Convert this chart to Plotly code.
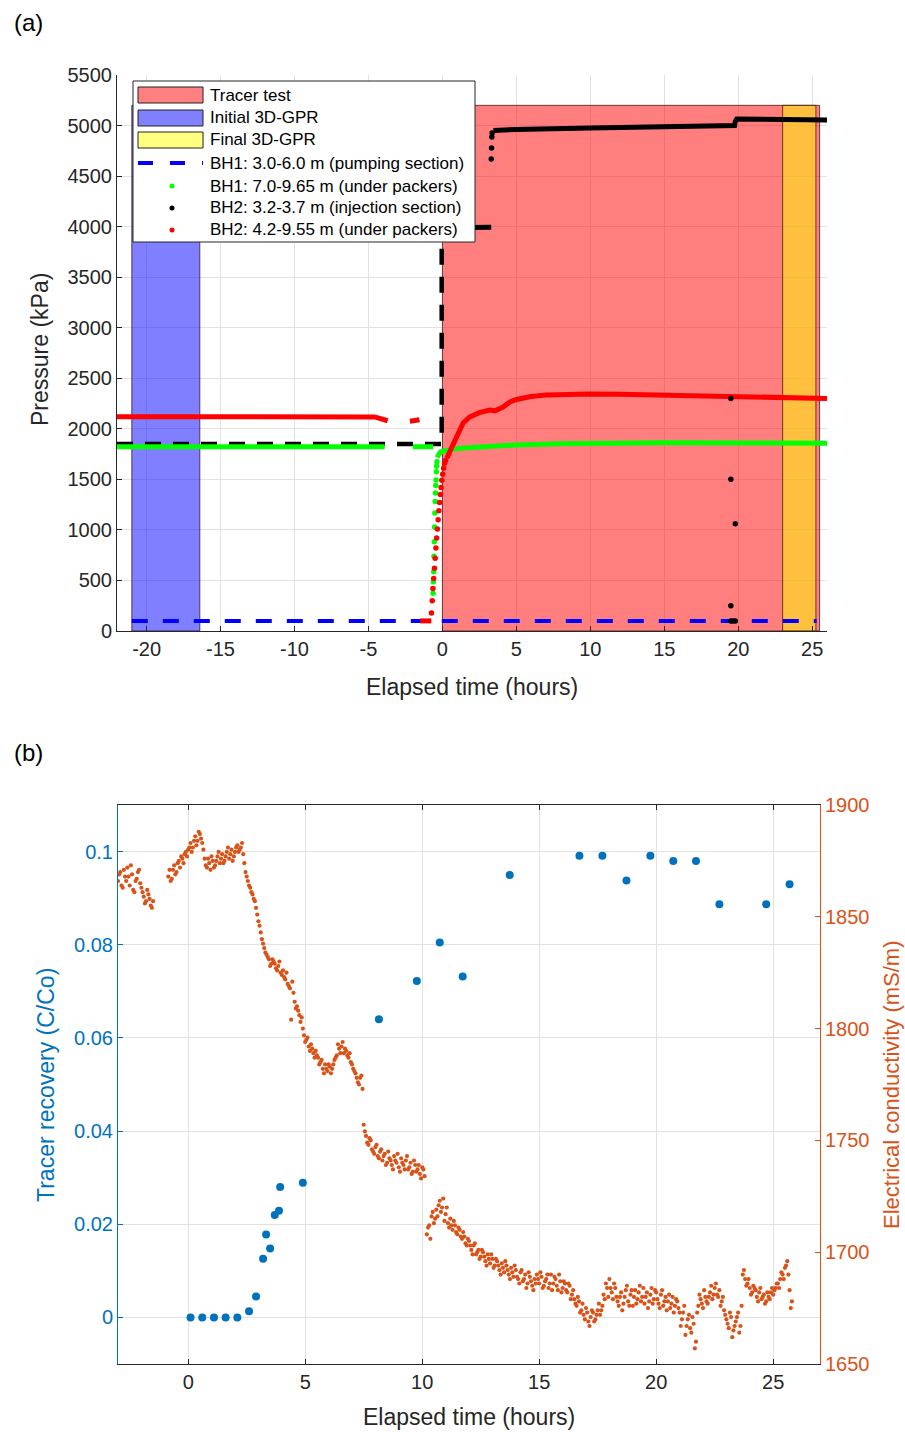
import plotly.graph_objects as go

W, H = 905, 1432
FONT = "Liberation Sans, Arial, sans-serif"
AX = "#262626"
GRID = "#e2e2e2"
BLUE_B = "#0072BD"
ORANGE_B = "#D95319"

# ---------------- Panel (a) data ----------------
tracer_period = [0.0, 25.5]
initial_gpr_period = [-21.0, -16.4]
final_gpr_period = [23.0, 25.25]
period_top = 5200

bh1_pump_t = [-21.0, 25.3]
bh1_pump_p = [100, 100]

bh1_pk_t_a = [-22.0, -10.0, -3.9]
bh1_pk_p_a = [1822, 1822, 1822]
bh1_pk_t_b = [-2.0, -1.0, -0.63]
bh1_pk_p_b = [1823, 1823, 1823]
bh1_pk_t_drop = [-0.63, -0.61, -0.59, -0.57, -0.55, -0.53, -0.51, -0.49, -0.47, -0.45, -0.43, -0.41, -0.39, -0.37]
bh1_pk_p_drop = [373, 488, 587, 740, 884, 1030, 1167, 1280, 1365, 1440, 1494, 1576, 1630, 1675]
bh1_pk_t_c = [-0.33, -0.28, -0.12, 0.5, 1.0, 2.0, 3.0, 5.0, 8.0, 10.0, 15.0, 20.0, 26.0]
bh1_pk_p_c = [1715, 1740, 1773, 1795, 1805, 1815, 1825, 1840, 1852, 1858, 1862, 1860, 1858]

bh2_inj_dash_t = [-22.0, -0.05, -0.05]
bh2_inj_dash_p = [1850, 1850, 4000]
bh2_inj_t_a = [0.0, 1.5, 3.3]
bh2_inj_p_a = [3990, 3990, 3995]
bh2_inj_t_jump = [3.3, 3.32, 3.34, 3.36]
bh2_inj_p_jump = [4669, 4778, 4887, 4926]
bh2_inj_t_b = [3.45, 5.0, 10.0, 15.0, 19.75, 19.8, 19.9, 26.0]
bh2_inj_p_b = [4950, 4962, 4975, 4988, 5000, 5040, 5065, 5055]
bh2_inj_t_out = [19.5, 19.5, 19.8, 19.5, 19.5, 19.65, 19.8]
bh2_inj_p_out = [2300, 1500, 1060, 250, 100, 100, 100]

bh2_pk_t_a = [-22.0, -10.0, -4.6, -4.3, -4.0, -3.7]
bh2_pk_p_a = [2120, 2120, 2118, 2105, 2092, 2080]
bh2_pk_t_b = [-2.2, -1.9, -1.55]
bh2_pk_p_b = [2075, 2082, 2090]
bh2_pk_t_c = [-1.5, -1.1, -0.75]
bh2_pk_p_c = [100, 100, 100]
bh2_pk_t_rise = [-0.74, -0.69, -0.64, -0.59, -0.54, -0.49, -0.44, -0.39, -0.34, -0.29, -0.24,
                 -0.19, -0.14, -0.09, -0.04, 0.02, 0.08, 0.15, 0.22]
bh2_pk_p_rise = [177, 300, 420, 520, 620, 720, 820, 920, 1010, 1100, 1190,
                 1270, 1350, 1420, 1490, 1550, 1610, 1660, 1690]
bh2_pk_t_d = [0.3, 0.5, 0.73, 1.06, 1.4, 1.85, 2.5, 3.2, 3.55, 4.1, 4.56, 5.0, 6.0, 7.0,
              8.0, 10.0, 12.0, 15.0, 18.0, 20.0, 22.0, 24.0, 26.0]
bh2_pk_p_d = [1710, 1771, 1860, 1959, 2058, 2117, 2160, 2186, 2178, 2216, 2265, 2290, 2320, 2335,
              2342, 2345, 2343, 2335, 2325, 2318, 2310, 2305, 2300]

a_xticks = [-20, -15, -10, -5, 0, 5, 10, 15, 20, 25]
a_xlabels = ["-20", "-15", "-10", "-5", "0", "5", "10", "15", "20", "25"]
a_yticks = [0, 500, 1000, 1500, 2000, 2500, 3000, 3500, 4000, 4500, 5000, 5500]

# ---------------- Panel (b) data ----------------
rec_t = [0.1, 0.6, 1.1, 1.6, 2.1, 2.6, 2.9, 3.2, 3.33, 3.5, 3.7, 3.88, 3.93, 4.9,
         8.15, 9.77, 10.75, 11.73, 13.74, 16.72, 17.7, 18.73, 19.75, 20.73, 21.7, 22.7, 24.7, 25.7]
rec_c = [0.0, 0.0, 0.0, 0.0, 0.0, 0.0013, 0.0045, 0.0126, 0.0178, 0.0148, 0.022, 0.0229, 0.028, 0.0289,
         0.064, 0.0722, 0.0805, 0.0732, 0.095, 0.0991, 0.0991, 0.0938, 0.0991, 0.098, 0.098, 0.0887, 0.0887, 0.093]

ec_step = 0.1
ec_seg1_start = -3.0
ec_seg1 = [1866, 1870, 1863, 1868, 1872, 1864, 1869, 1861, 1867, 1871, 1863, 1859, 1857, 1860, 1855, 1857]
ec_seg1b_start = -2.95
ec_seg1b = [1869, 1864, 1871, 1866, 1868, 1873, 1862, 1866, 1870, 1865, 1861, 1856, 1862, 1858, 1854]
ec_seg2_start = -0.85
ec_seg2 = [1868, 1866, 1871, 1869, 1874, 1872, 1876, 1878, 1877, 1881, 1879, 1884, 1882, 1888, 1885, 1880,
           1873, 1876, 1871, 1875, 1873, 1877, 1874, 1878, 1875, 1879, 1876, 1880, 1877, 1881, 1879, 1881,
           1878, 1870, 1866, 1863, 1860, 1857, 1851, 1846, 1840, 1836, 1833, 1831, 1829, 1830, 1827, 1828,
           1825, 1826, 1822, 1820, 1818, 1821, 1812, 1810, 1806, 1805, 1797, 1795, 1792, 1793, 1789, 1790,
           1787, 1785, 1782, 1784, 1781, 1783, 1782, 1786, 1788, 1791, 1792, 1789, 1790, 1787, 1785, 1782,
           1780, 1776, 1778, 1773]
ec_seg2b_start = -0.8
ec_seg2b = [1871, 1867, 1873, 1870, 1875, 1877, 1874, 1879, 1880, 1883, 1881, 1886, 1884, 1887, 1883, 1876,
            1872, 1874, 1877, 1872, 1875, 1879, 1876, 1874, 1877, 1881, 1878, 1875, 1879, 1882, 1880, 1883,
            1874, 1868, 1864, 1861, 1858, 1854, 1848, 1843, 1838, 1834, 1832, 1828, 1831, 1829, 1826, 1830,
            1824, 1823, 1825, 1819, 1804, 1816, 1809, 1808, 1803, 1800, 1794, 1796, 1790, 1791, 1787, 1788,
            1784, 1786, 1780, 1782, 1784, 1780, 1784, 1787, 1793, 1789, 1794, 1791, 1788, 1789, 1784, 1781,
            1778, 1775, 1779]
ec_seg3_start = 7.5
ec_seg3 = [1757, 1752, 1748, 1750, 1745, 1747, 1743, 1745, 1741, 1744, 1740, 1742, 1739, 1743, 1740,
           1738, 1742, 1739, 1741, 1737, 1740, 1736, 1739, 1737, 1735, 1738, 1734]
ec_seg3b_start = 7.55
ec_seg3b = [1754, 1749, 1751, 1746, 1744, 1748, 1742, 1746, 1743, 1739, 1745, 1741, 1737, 1741, 1744,
            1736, 1740, 1737, 1743, 1738, 1735, 1741, 1736, 1739, 1733, 1737]
ec_seg4_start = 10.2
ec_seg4 = [1708, 1712, 1716, 1713, 1719, 1721, 1718, 1724, 1717, 1713, 1715, 1710, 1712, 1708, 1710, 1706,
           1707, 1703, 1705, 1701, 1703, 1699, 1701, 1698, 1700, 1696, 1699, 1695, 1697, 1694, 1696, 1692,
           1695, 1691, 1694, 1690, 1693, 1689, 1692, 1688, 1691, 1687, 1690, 1686, 1689, 1685, 1688, 1690,
           1686, 1689, 1685, 1688, 1684, 1690, 1686, 1688, 1683, 1687, 1684, 1686, 1682, 1685, 1681, 1679,
           1676, 1678, 1674, 1672, 1675, 1669, 1671, 1673, 1670, 1674, 1672, 1676, 1679, 1684, 1688, 1682,
           1686, 1680, 1676, 1682, 1677, 1683, 1678, 1681, 1676, 1683, 1679, 1685, 1680, 1677, 1682, 1678,
           1684, 1679, 1682, 1677, 1681, 1676, 1680, 1678, 1675, 1680, 1676, 1678, 1673, 1670, 1676, 1667,
           1672, 1664, 1668, 1660, 1676, 1679, 1675, 1680, 1677, 1682, 1679, 1684, 1681, 1683, 1678, 1674,
           1670, 1666, 1671, 1665, 1669, 1673, 1667, 1690, 1688, 1686, 1684, 1682, 1684, 1680, 1682, 1679,
           1681, 1678, 1680, 1682, 1681, 1684, 1686, 1688, 1690, 1693, 1696, 1683, 1678]
ec_seg4b_start = 10.25
ec_seg4b = [1711, 1706, 1718, 1715, 1716, 1723, 1720, 1714, 1720, 1711, 1712, 1714, 1709, 1711, 1707, 1709,
            1704, 1706, 1703, 1699, 1704, 1700, 1697, 1701, 1698, 1694, 1697, 1699, 1693, 1697, 1694, 1690,
            1693, 1696, 1692, 1688, 1691, 1694, 1689, 1686, 1692, 1688, 1684, 1691, 1687, 1683, 1686, 1688,
            1691, 1684, 1687, 1690, 1686, 1683, 1689, 1685, 1690, 1682, 1687, 1683, 1686, 1679, 1683, 1677,
            1680, 1673, 1677, 1670, 1673, 1667, 1674, 1669, 1672, 1677, 1674, 1681, 1686, 1680, 1684, 1679,
            1684, 1678, 1680, 1674, 1680, 1685, 1676, 1683, 1680, 1677, 1682, 1678, 1684, 1680, 1675, 1681,
            1677, 1683, 1679, 1675, 1683, 1678, 1674, 1681, 1677, 1673, 1679, 1675, 1667, 1673, 1663, 1670,
            1666, 1671, 1657, 1673, 1681, 1677, 1683, 1678, 1680, 1685, 1681, 1686, 1680, 1676, 1680, 1672,
            1668, 1673, 1662, 1667, 1671, 1664, 1676, 1692, 1685, 1688, 1681, 1685, 1683, 1678, 1684, 1680,
            1677, 1682, 1679, 1684, 1683, 1686, 1684, 1691, 1688, 1694, 1690, 1675]

b_xticks = [0, 5, 10, 15, 20, 25]
b_yticks_left = [0, 0.02, 0.04, 0.06, 0.08, 0.1]
b_yticks_right = [1650, 1700, 1750, 1800, 1850, 1900]


def seg_times(start, vals):
    return [round(start + i * ec_step, 3) for i in range(len(vals))]


ec_t, ec_v = [], []
for s, v in [(ec_seg1_start, ec_seg1), (ec_seg1b_start, ec_seg1b),
             (ec_seg2_start, ec_seg2), (ec_seg2b_start, ec_seg2b),
             (ec_seg3_start, ec_seg3), (ec_seg3b_start, ec_seg3b),
             (ec_seg4_start, ec_seg4), (ec_seg4b_start, ec_seg4b)]:
    ec_t += seg_times(s, v)
    ec_v += v


def px(x):
    return x / W


def py(y):
    return 1 - y / H


fig = go.Figure()


def rect_trace(period, color):
    x0, x1 = period
    return go.Scatter(x=[x0, x1, x1, x0, x0], y=[0, 0, period_top, period_top, 0],
                      fill="toself", fillcolor=color, mode="lines",
                      line=dict(color="rgba(40,0,0,0.85)", width=0.8),
                      hoverinfo="skip", showlegend=False, xaxis="x", yaxis="y")


fig.add_trace(rect_trace(tracer_period, "rgba(255,0,0,0.5)"))
fig.add_trace(rect_trace(initial_gpr_period, "rgba(0,0,255,0.5)"))
fig.add_trace(rect_trace(final_gpr_period, "rgba(255,255,0,0.5)"))


def line_tr(x, y, color, width=5, dash=None):
    return go.Scatter(x=x, y=y, mode="lines", line=dict(color=color, width=width, dash=dash),
                      showlegend=False, xaxis="x", yaxis="y")


def dot_tr(x, y, color, size=5.5):
    return go.Scatter(x=x, y=y, mode="markers", marker=dict(color=color, size=size),
                      showlegend=False, xaxis="x", yaxis="y")


fig.add_trace(line_tr(bh1_pump_t, bh1_pump_p, "#0000ff", width=4, dash="16px,15px"))
fig.add_trace(line_tr(bh2_inj_dash_t, bh2_inj_dash_p, "#000000", width=4.5, dash="16px,12px"))
fig.add_trace(line_tr(bh1_pk_t_a, bh1_pk_p_a, "#00ff00"))
fig.add_trace(line_tr(bh1_pk_t_b, bh1_pk_p_b, "#00ff00"))
fig.add_trace(dot_tr(bh1_pk_t_drop, bh1_pk_p_drop, "#00ff00"))
fig.add_trace(line_tr(bh1_pk_t_c, bh1_pk_p_c, "#00ff00"))
fig.add_trace(line_tr(bh2_pk_t_a, bh2_pk_p_a, "#ff0000"))
fig.add_trace(line_tr(bh2_pk_t_b, bh2_pk_p_b, "#ff0000"))
fig.add_trace(line_tr(bh2_pk_t_c, bh2_pk_p_c, "#ff0000"))
fig.add_trace(dot_tr(bh2_pk_t_rise, bh2_pk_p_rise, "#ff0000"))
fig.add_trace(line_tr(bh2_pk_t_d, bh2_pk_p_d, "#ff0000"))
fig.add_trace(line_tr(bh2_inj_t_a, bh2_inj_p_a, "#000000"))
fig.add_trace(dot_tr(bh2_inj_t_jump, bh2_inj_p_jump, "#000000"))
fig.add_trace(line_tr(bh2_inj_t_b, bh2_inj_p_b, "#000000"))
fig.add_trace(dot_tr(bh2_inj_t_out, bh2_inj_p_out, "#000000"))

fig.add_trace(go.Scatter(x=rec_t, y=rec_c, mode="markers",
                         marker=dict(color=BLUE_B, size=8), showlegend=False,
                         xaxis="x2", yaxis="y2"))
fig.add_trace(go.Scatter(x=ec_t, y=ec_v, mode="markers",
                         marker=dict(color=ORANGE_B, size=4.2), showlegend=False,
                         xaxis="x2", yaxis="y3"))

tickfont = dict(family=FONT, size=20, color=AX)
common = dict(showline=True, linecolor=AX, linewidth=1, ticks="inside", ticklen=5,
              tickcolor=AX, showgrid=True, gridcolor=GRID, gridwidth=1, zeroline=False,
              automargin=False, tickfont=tickfont)

fig.update_layout(
    width=W, height=H, margin=dict(l=0, r=0, t=0, b=0),
    paper_bgcolor="white", plot_bgcolor="white", showlegend=False,
    xaxis=dict(domain=[px(117), px(827)], range=[-22, 26], tickvals=a_xticks,
               ticktext=a_xlabels, anchor="y", **common),
    yaxis=dict(domain=[py(631), py(75)], range=[0, 5500], tickvals=a_yticks,
               anchor="x", **common),
    xaxis2=dict(domain=[px(118), px(820)], range=[-3, 27], tickvals=b_xticks,
                anchor="y2", mirror="ticks", **common),
    yaxis2=dict(domain=[py(1364), py(805)], range=[-0.01, 0.11], tickvals=b_yticks_left,
                anchor="x2", showline=True, linecolor=BLUE_B, ticks="inside", ticklen=5,
                tickcolor=BLUE_B, showgrid=True, gridcolor=GRID, zeroline=False,
                automargin=False, tickfont=dict(family=FONT, size=20, color=BLUE_B)),
    yaxis3=dict(range=[1650, 1900], tickvals=b_yticks_right, overlaying="y2", side="right",
                anchor="x2", showline=True, linecolor=ORANGE_B, ticks="inside", ticklen=5,
                tickcolor=ORANGE_B, showgrid=False, zeroline=False, automargin=False,
                tickfont=dict(family=FONT, size=20, color=ORANGE_B)),
)

# ---------- manual legend for panel (a) ----------
shapes = []
shapes.append(dict(type="rect", xref="paper", yref="paper", x0=px(133), x1=px(475),
                   y0=py(242), y1=py(81), fillcolor="white",
                   line=dict(color=AX, width=1), layer="above"))
row_y = [95, 118, 140, 163, 186, 208, 230]
patch_cols = ["#ff8080", "#8080ff", "#ffff80"]
for i, c in enumerate(patch_cols):
    shapes.append(dict(type="rect", xref="paper", yref="paper", x0=px(138), x1=px(203),
                       y0=py(row_y[i] + 8), y1=py(row_y[i] - 8), fillcolor=c,
                       line=dict(color="#222222", width=1), layer="above"))
shapes.append(dict(type="line", xref="paper", yref="paper", x0=px(138), x1=px(203),
                   y0=py(row_y[3]), y1=py(row_y[3]),
                   line=dict(color="#0000ff", width=4, dash="15px,17px"), layer="above"))
for i, c in zip([4, 5, 6], ["#00ff00", "#000000", "#ff0000"]):
    shapes.append(dict(type="circle", xref="paper", yref="paper",
                       x0=px(169.5), x1=px(174.5), y0=py(row_y[i] + 2.5), y1=py(row_y[i] - 2.5),
                       fillcolor=c, line=dict(color=c, width=0), layer="above"))
fig.update_layout(shapes=shapes)

legend_texts = ["Tracer test", "Initial 3D-GPR", "Final 3D-GPR",
                "BH1: 3.0-6.0 m (pumping section)", "BH1: 7.0-9.65 m (under packers)",
                "BH2: 3.2-3.7 m (injection section)", "BH2: 4.2-9.55 m (under packers)"]
ann = []
for i, t in enumerate(legend_texts):
    ann.append(dict(text=t, x=px(208), y=py(row_y[i]), xref="paper", yref="paper",
                    xanchor="left", yanchor="middle", showarrow=False,
                    font=dict(family=FONT, size=17, color="#000000")))


def label(text, x, y, size=23, color=AX, angle=0):
    return dict(text=text, x=px(x), y=py(y), xref="paper", yref="paper",
                xanchor="center", yanchor="middle", showarrow=False, textangle=angle,
                font=dict(family=FONT, size=size, color=color))


ann += [
    label("(a)", 28, 22, size=24, color="#000000"),
    label("(b)", 28, 752, size=24, color="#000000"),
    label("Pressure (kPa)", 40, 350, angle=-90),
    label("Elapsed time (hours)", 472, 687),
    label("Tracer recovery (C/Co)", 46, 1085, color=BLUE_B, angle=-90),
    label("Electrical conductivity (mS/m)", 891, 1085, size=22, color=ORANGE_B, angle=-90),
    label("Elapsed time (hours)", 469, 1417),
]
fig.update_layout(annotations=ann)

fig.write_html("out.html", config={"displayModeBar": False},
               post_script="document.body.style.margin='0';document.body.style.overflow='hidden';")
